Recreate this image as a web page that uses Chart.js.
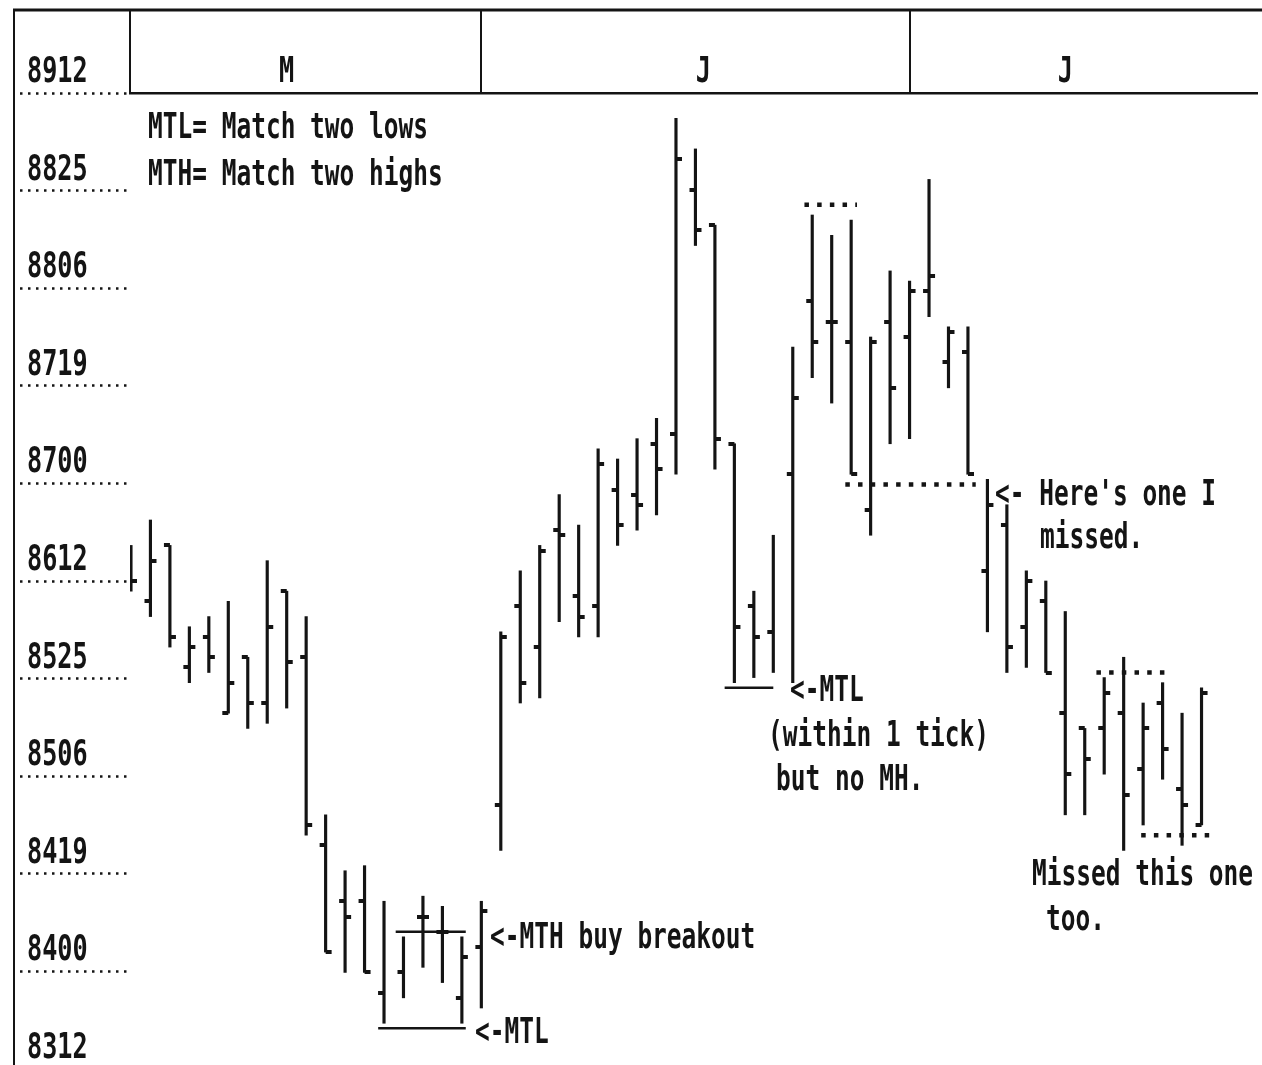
<!DOCTYPE html>
<html>
<head>
<meta charset="utf-8">
<script src="https://cdn.jsdelivr.net/npm/chart.js@4.4.1/dist/chart.umd.min.js"></script>
<style>
  html, body { margin: 0; padding: 0; background: #fff; overflow: hidden; }
  #wrap { width: 1262px; height: 1065px; overflow: hidden; position: relative; background: #fff; }
  canvas { display: block; }
</style>
</head>
<body>
<div id="wrap"><canvas id="c" width="1262" height="1075"></canvas></div>
<script>
// Bond futures prices are written as points and 32nds: 8612 = 86 12/32.
const priceLabels = ['8912', '8825', '8806', '8719', '8700', '8612', '8525', '8506', '8419', '8400', '8312'];
const months = ['M', 'J', 'J'];
const monthStartBar = [1, 19, 41];
const monthLabelBar = [9, 30.4, 49];

// Daily bars, one entry per session (null = no mark printed)
const opens  = [8616, 8608, 8619, 8527, 8601, 8518, 8529, 8520, 8610, 8529,
                8424, 8413, 8413, 8327, 8331, 8410, 8407, 8326, 8404, 8500,
                8607, 8531, 8622, 8609, 8607, 8630, 8629, 8707, 8709, 8825,
                8818, 8707, 8607, 8602, 8701, 8803, 8731, 8727, 8626, 8731,
                8728, 8805, 8723, 8725, 8614, 8623, 8603, 8608, 8518, 8515,
                8515, 8518, 8507, 8520, 8503, 8428];
const highs  = [8619, 8624, 8619, 8603, 8605, 8608, 8529, 8616, 8610, 8605,
                8430, 8419, 8420, 8413, 8406, 8414, 8412, 8406, 8413, 8602,
                8614, 8619, 8629, 8623, 8706, 8704, 8708, 8712, 8907, 8901,
                8818, 8707, 8610, 8621, 8726, 8820, 8816, 8819, 8728, 8809,
                8807, 8827, 8730, 8730, 8700, 8627, 8614, 8612, 8606, 8515,
                8525, 8529, 8520, 8524, 8518, 8523];
const lows   = [8610, 8605, 8531, 8524, 8526, 8518, 8515, 8516, 8519, 8426,
                8403, 8331, 8331, 8321, 8326, 8400, 8329, 8321, 8324, 8423,
                8520, 8521, 8604, 8601, 8601, 8619, 8622, 8625, 8701, 8814,
                8702, 8524, 8525, 8526, 8524, 8720, 8715, 8701, 8621, 8707,
                8708, 8800, 8718, 8701, 8602, 8526, 8527, 8526, 8430, 8430,
                8506, 8423, 8428, 8505, 8424, 8428];
const closes = [8612, 8616, 8601, 8531, 8529, 8524, 8520, 8603, 8528, 8428,
                8403, 8410, 8331, null, null, 8410, 8407, 8402, 8411, 8601,
                8524, 8618, 8621, 8605, 8703, 8623, 8627, 8702, 8831, 8817,
                8708, 8603, 8601, null, 8716, 8727, 8731, 8701, 8727, 8718,
                8805, 8808, 8729, 8701, 8627, 8531, 8612, 8526, 8506, 8509,
                8522, 8502, 8515, 8511, 8500, 8522];

// Matched highs / lows drawn across the bars
const guideLevel  = [8407, 8320, 8523, 8822, 8631, 8526, 8426];
const guideFrom   = [14.6, 13.7, 31.5, 35.6, 37.7, 50.6, 52.9];
const guideTo     = [18.2, 18.2, 34.0, 38.3, 44.4, 54.5, 56.6];
const guideDotted = [false, false, false, true, true, true, true];

const notes = [
  ['MTL= Match two lows', 148, 138],
  ['MTH= Match two highs', 148, 185],
  ['<-MTH buy breakout', 490, 948],
  ['<-MTL', 475, 1043],
  ['<-MTL', 790, 701],
  ['(within 1 tick)', 768, 746],
  ['but no MH.', 776, 790],
  ["<- Here's one I", 995, 505],
  ['missed.', 1040, 548],
  ['Missed this one', 1032, 885],
  ['too.', 1046, 930]
];

// 8612 -> number of 32nds
const to32 = p => Math.floor(p / 100) * 32 + (p % 100);

const INK = '#141414';
const FONT = 'bold 36px "DejaVu Sans Mono", "Liberation Mono", monospace';

function tickMark(side) {
  const c = document.createElement('canvas');
  c.width = 14; c.height = 4;
  const g = c.getContext('2d');
  g.fillStyle = INK;
  if (side === 'open') g.fillRect(1, 0, 6, 4); else g.fillRect(7, 0, 6, 4);
  return c;
}

const barData = highs.map((h, i) => ({ x: i + 1, y: [to32(lows[i]), to32(h)] }));
const openData = opens.map((v, i) => v == null ? null : { x: i + 1, y: to32(v) }).filter(Boolean);
const closeData = closes.map((v, i) => v == null ? null : { x: i + 1, y: to32(v) }).filter(Boolean);

const guideSets = guideLevel.map((lv, i) => ({
  type: 'line',
  data: [{ x: guideFrom[i], y: to32(lv) }, { x: guideTo[i], y: to32(lv) }],
  borderColor: INK,
  borderWidth: guideDotted[i] ? 4.5 : 2.5,
  borderDash: guideDotted[i] ? [4.5, 8.2] : [],
  borderCapStyle: 'butt',
  pointRadius: 0,
  fill: false,
  tension: 0
}));

function drawScaledText(ctx, str, x, y, sx, align) {
  ctx.save();
  ctx.translate(x, y);
  ctx.scale(sx, 1);
  ctx.textAlign = align || 'left';
  ctx.textBaseline = 'alphabetic';
  ctx.fillText(str, 0, 0);
  ctx.restore();
}

const framePlugin = {
  id: 'frame',
  afterDraw(chart) {
    const { ctx, chartArea, scales } = chart;
    const top = 10;
    ctx.save();
    ctx.strokeStyle = INK;
    ctx.fillStyle = INK;
    // outer frame: top rule and left rule
    ctx.lineWidth = 3;
    ctx.beginPath();
    ctx.moveTo(13, top); ctx.lineTo(chart.width, top);
    ctx.stroke();
    ctx.lineWidth = 2;
    ctx.beginPath();
    ctx.moveTo(14, top); ctx.lineTo(14, chart.height);
    ctx.stroke();
    // month header cells
    ctx.beginPath();
    ctx.moveTo(chartArea.left, top); ctx.lineTo(chartArea.left, chartArea.top);
    monthStartBar.slice(1).forEach(b => {
      const px = Math.round(scales.x.getPixelForValue(b));
      ctx.moveTo(px, top); ctx.lineTo(px, chartArea.top);
    });
    ctx.stroke();

    ctx.font = FONT;
    // month names
    scales.x.ticks.forEach((t, i) => {
      drawScaledText(ctx, months[i], scales.x.getPixelForValue(t.value), chartArea.top - 11, 0.7, 'center');
    });
    // price labels sit just above their dotted tick line
    const n = priceLabels.length;
    scales.y.ticks.forEach((t, i) => {
      const py = scales.y.getPixelForValue(t.value);
      drawScaledText(ctx, priceLabels[n - 1 - i], 27, py - 11, 0.7, 'left');
    });
    // notes
    notes.forEach(([s, x, y]) => drawScaledText(ctx, s, x, y, 0.68, 'left'));
    ctx.restore();
  }
};

const yMin = to32(priceLabels[priceLabels.length - 1]);
const yMax = to32(priceLabels[0]);

new Chart(document.getElementById('c'), {
  type: 'bar',
  data: {
    datasets: [
      {
        type: 'bar',
        data: barData,
        backgroundColor: INK,
        borderWidth: 0,
        barThickness: 2.5
      },
      {
        type: 'scatter',
        data: openData,
        pointStyle: tickMark('open'),
        pointRadius: 3,
        showLine: false
      },
      {
        type: 'scatter',
        data: closeData,
        pointStyle: tickMark('close'),
        pointRadius: 3,
        showLine: false
      },
      ...guideSets
    ]
  },
  options: {
    responsive: false,
    animation: false,
    events: [],
    layout: { padding: { top: 10, left: 27, right: 0, bottom: 6 } },
    plugins: { legend: { display: false }, tooltip: { enabled: false } },
    scales: {
      x: {
        type: 'linear',
        position: 'top',
        min: 0.95,
        max: 58.85,
        offset: false,
        afterBuildTicks(scale) {
          scale.ticks = monthLabelBar.map(v => ({ value: v }));
        },
        afterFit(scale) { scale.height = 83; },
        ticks: { display: false },
        grid: { display: true, drawOnChartArea: false, drawTicks: false, offset: false },
        border: { display: true, color: INK, width: 2.5 }
      },
      y: {
        type: 'linear',
        min: yMin,
        max: yMax,
        afterBuildTicks(scale) {
          const n = priceLabels.length;
          scale.ticks = priceLabels.map((_, i) => ({ value: yMin + i * (yMax - yMin) / (n - 1) }));
        },
        afterFit(scale) { scale.width = 103; },
        ticks: { display: false },
        grid: {
          display: true,
          drawOnChartArea: false,
          drawTicks: true,
          tickLength: 110,
          tickWidth: 2.5,
          tickColor: INK,
          tickBorderDash: [2.5, 5.5]
        },
        border: { display: false }
      }
    }
  },
  plugins: [framePlugin]
});
</script>
</body>
</html>
